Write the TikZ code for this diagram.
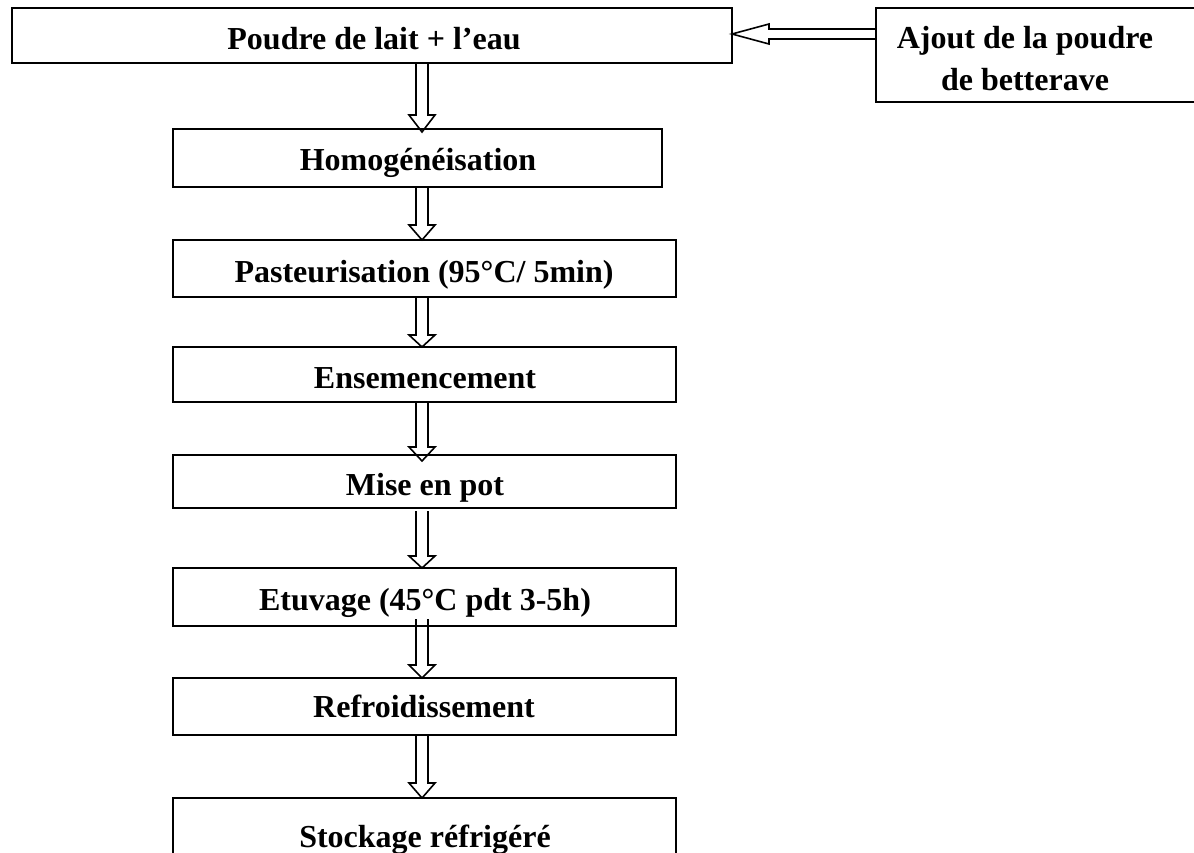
\documentclass[tikz,border=0pt]{standalone}
\usepackage{fontspec}
\setmainfont{Liberation Serif}
\usetikzlibrary{calc}
\tikzset{
  stepbox/.style={draw=black, line width=1.1pt, inner sep=0pt, outer sep=0pt, fill=none},
  lbl/.style={inner sep=0pt, anchor=base, font=\fontsize{16}{19}\selectfont\bfseries},
  arrowline/.style={draw=black, line width=0.8pt, line join=miter},
}
% vertical hollow arrow: #1 start, #2 tip, #3 head length
\newcommand\varrow[3]{%
  \draw[arrowline] let \p1=#1, \p2=#2 in
    (\x1-3pt,\y1) -- (\x1-3pt,\y2+#3) -- (\x1-6.5pt,\y2+#3) -- (\x1,\y2)
    -- (\x1+6.5pt,\y2+#3) -- (\x1+3pt,\y2+#3) -- (\x1+3pt,\y1);}
\begin{document}
\begin{tikzpicture}[x=0.5pt,y=-0.5pt]
\useasboundingbox (0,0) rectangle (1194,852);
\coordinate (axis) at (422,0);
\coordinate (hy) at (0,34);
% boxes
\node[stepbox, minimum width=360pt, minimum height=27.5pt] (top) at (372,35.5) {};
\node[stepbox, minimum width=162pt, minimum height=47pt] (aj) at (1038,55) {};
\node[stepbox, minimum width=244.5pt, minimum height=29pt] (homog) at (417.5,158) {};
\node[stepbox, minimum width=251.5pt, minimum height=28.5pt] (past) at (424.5,268.5) {};
\node[stepbox, minimum width=251.5pt, minimum height=27.5pt] (ens) at (424.5,374.5) {};
\node[stepbox, minimum width=251.5pt, minimum height=26.5pt] (mise) at (424.5,481.5) {};
\node[stepbox, minimum width=251.5pt, minimum height=29pt] (etuv) at (424.5,597) {};
\node[stepbox, minimum width=251.5pt, minimum height=28.5pt] (refr) at (424.5,706.5) {};
\node[stepbox, minimum width=251.5pt, minimum height=36pt] (stock) at (424.5,834) {};
% labels
\node[lbl] (topt) at (374,49) {Poudre de lait + l’eau};
\node[lbl] (ajt1) at (1025,48) {Ajout de la poudre};
\node[lbl] (ajt2) at (1025,90) {de betterave};
\node[lbl] (homogt) at (418,170) {Homogénéisation};
\node[lbl] (pastt) at (424,282) {Pasteurisation (95°C/ 5min)};
\node[lbl] (enst) at (425,388) {Ensemencement};
\node[lbl] (miset) at (425,495) {Mise en pot};
\node[lbl] (etuvt) at (425,610) {Etuvage (45°C pdt 3-5h)};
\node[lbl] (refrt) at (424,717) {Refroidissement};
\node[lbl] (stockt) at (425,847) {Stockage réfrigéré};
% vertical arrows
\varrow{(top.south -| axis)}{([yshift=-1.5pt]homog.north -| axis)}{8.5pt}
\varrow{(homog.south -| axis)}{(past.north -| axis)}{7.5pt}
\varrow{(past.south -| axis)}{(ens.north -| axis)}{6pt}
\varrow{(ens.south -| axis)}{([yshift=-3pt]mise.north -| axis)}{7pt}
\varrow{([yshift=-1.5pt]mise.south -| axis)}{(etuv.north -| axis)}{6pt}
\varrow{([yshift=3.5pt]etuv.south -| axis)}{(refr.north -| axis)}{6.5pt}
\varrow{(refr.south -| axis)}{(stock.north -| axis)}{7.5pt}
% horizontal arrow
\draw[arrowline] let \p1=(aj.west |- hy), \p2=(top.east |- hy) in
  (\x1,\y1+2.5pt) -- (\x2+18.5pt,\y1+2.5pt) -- (\x2+18.5pt,\y1+5pt) -- (\x2,\y1)
  -- (\x2+18.5pt,\y1-5pt) -- (\x2+18.5pt,\y1-2.5pt) -- (\x1,\y1-2.5pt);
\end{tikzpicture}
\end{document}
